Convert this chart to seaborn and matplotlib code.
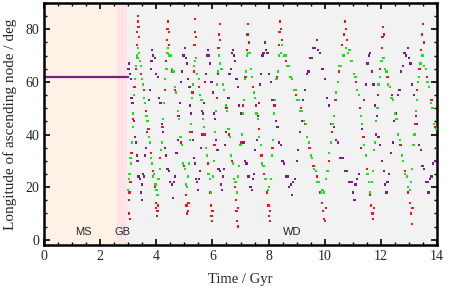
import pandas as pd
import seaborn as sns
import matplotlib.pyplot as plt
from matplotlib.ticker import MultipleLocator

# stellar stages (Gyr) and labels
stage_names = ["MS", "GB", "WD"]
stage_edges = [0.0, 2.6, 2.95, 14.0]
stage_colors = ["#fef2e6", "#fde3e6", "#f2f2f2"]
stage_label_t = [1.39, 2.78, 8.83]

# constant node longitude before the WD phase
ms_time = [0.0, 3.0]
ms_deg = [62, 62]

# (time / Gyr, longitude / deg)
purple_pts = [
    (3.00, 62), (3.01, 65), (3.03, 67), (3.06, 63), (3.09, 61), (3.12, 54), (3.15, 52), (3.18, 46),
    (3.21, 45), (3.24, 39), (3.27, 37), (3.30, 32), (3.33, 30), (3.37, 24), (3.41, 23), (3.45, 18),
    (3.48, 15), (3.50, 21), (3.52, 25), (3.56, 24), (3.60, 32), (3.64, 35), (3.67, 41), (3.70, 45),
    (3.74, 53), (3.77, 57), (3.80, 65), (3.83, 68), (3.86, 72), (3.89, 70), (3.95, 69), (4.00, 63),
    (4.05, 62), (4.10, 54), (4.15, 52), (4.20, 44), (4.25, 41), (4.30, 35), (4.35, 32), (4.40, 27),
    (4.45, 26), (4.50, 22), (4.55, 21), (4.60, 16), (4.63, 22), (4.67, 24), (4.72, 33), (4.76, 38),
    (4.80, 47), (4.84, 52), (4.88, 60), (4.92, 64), (4.96, 70), (5.00, 70), (5.03, 73), (5.06, 69),
    (5.10, 67), (5.14, 61), (5.18, 58), (5.21, 51), (5.24, 48), (5.27, 41), (5.30, 38), (5.34, 31),
    (5.38, 29), (5.42, 23), (5.46, 22), (5.49, 19), (5.52, 23), (5.56, 26), (5.60, 35), (5.64, 40),
    (5.67, 48), (5.70, 52), (5.74, 60), (5.77, 63), (5.80, 70), (5.84, 72), (5.87, 70), (5.92, 67),
    (5.97, 60), (6.02, 56), (6.06, 48), (6.10, 46), (6.14, 38), (6.18, 34), (6.22, 27), (6.26, 26),
    (6.30, 21), (6.34, 19), (6.37, 24), (6.41, 27), (6.45, 36), (6.49, 41), (6.53, 50), (6.57, 54),
    (6.61, 63), (6.65, 65), (6.69, 71), (6.73, 72), (6.76, 70), (6.81, 68), (6.86, 61), (6.91, 58),
    (6.96, 51), (7.01, 48), (7.06, 40), (7.11, 37), (7.16, 30), (7.21, 29), (7.26, 24), (7.31, 24),
    (7.36, 20), (7.41, 19), (7.44, 23), (7.48, 25), (7.53, 34), (7.58, 38), (7.62, 47), (7.66, 52),
    (7.70, 59), (7.74, 63), (7.78, 70), (7.82, 71), (7.86, 75), (7.90, 72), (7.96, 71), (8.02, 63),
    (8.08, 60), (8.14, 53), (8.20, 51), (8.26, 45), (8.32, 43), (8.38, 37), (8.44, 36), (8.50, 30),
    (8.56, 29), (8.62, 24), (8.68, 24), (8.74, 20), (8.80, 21), (8.84, 17), (8.88, 22), (8.94, 23),
    (9.00, 30), (9.06, 34), (9.12, 41), (9.18, 45), (9.24, 53), (9.30, 57), (9.36, 63), (9.42, 64),
    (9.48, 69), (9.54, 69), (9.60, 73), (9.66, 73), (9.72, 76), (9.76, 72), (9.84, 71), (9.92, 65),
    (10.00, 61), (10.08, 54), (10.16, 51), (10.24, 44), (10.32, 43), (10.40, 38), (10.48, 37),
    (10.56, 31), (10.64, 31), (10.72, 26), (10.80, 26), (10.88, 22), (10.96, 22), (11.02, 18),
    (11.06, 15), (11.10, 21), (11.16, 23), (11.22, 25), (11.28, 35), (11.34, 42), (11.40, 53),
    (11.46, 59), (11.52, 67), (11.57, 70), (11.62, 71), (11.68, 64), (11.74, 59), (11.80, 51),
    (11.86, 47), (11.92, 39), (11.98, 36), (12.04, 30), (12.10, 26), (12.16, 21), (12.20, 18),
    (12.24, 22), (12.30, 25), (12.36, 33), (12.42, 37), (12.48, 45), (12.54, 48), (12.60, 55),
    (12.66, 57), (12.72, 64), (12.78, 66), (12.84, 71), (12.90, 70), (12.96, 73), (13.00, 69),
    (13.06, 67), (13.12, 59), (13.18, 55), (13.24, 47), (13.30, 44), (13.36, 36), (13.42, 34),
    (13.48, 28), (13.54, 27), (13.60, 22), (13.66, 22), (13.70, 18), (13.74, 23), (13.80, 24),
    (13.86, 29), (13.92, 30), (13.98, 35),
]

red_pts = [
    (3.02, 15), (3.04, 10), (3.06, 8), (3.05, 18), (3.08, 22), (3.12, 33), (3.17, 46), (3.22, 58),
    (3.27, 65), (3.30, 74), (3.32, 79), (3.34, 83), (3.35, 85), (3.37, 81), (3.39, 77), (3.46, 63),
    (3.55, 57), (3.63, 49), (3.72, 42), (3.80, 33), (3.88, 26), (3.95, 20), (3.98, 14), (4.00, 12),
    (4.02, 9), (4.04, 11), (4.06, 13), (4.14, 31), (4.22, 43), (4.30, 57), (4.35, 68), (4.38, 76),
    (4.40, 80), (4.42, 83), (4.44, 79), (4.46, 74), (4.58, 64), (4.68, 57), (4.78, 47), (4.88, 37),
    (4.98, 28), (5.05, 17), (5.08, 13), (5.10, 10), (5.13, 11), (5.15, 14), (5.22, 41), (5.29, 56),
    (5.33, 64), (5.36, 74), (5.38, 79), (5.39, 84), (5.41, 77), (5.53, 58), (5.63, 49), (5.72, 40),
    (5.83, 29), (5.92, 18), (5.95, 13), (5.97, 9), (5.99, 7), (6.00, 11), (6.07, 36), (6.15, 54),
    (6.19, 63), (6.22, 73), (6.24, 78), (6.26, 82), (6.28, 76), (6.40, 57), (6.50, 50), (6.60, 40),
    (6.70, 30), (6.80, 20), (6.84, 15), (6.86, 11), (6.88, 7), (6.90, 5), (6.91, 12), (7.02, 37),
    (7.10, 51), (7.18, 62), (7.22, 72), (7.25, 78), (7.27, 82), (7.29, 75), (7.45, 58), (7.55, 51),
    (7.65, 42), (7.75, 32), (7.85, 25), (7.95, 18), (8.00, 13), (8.02, 9), (8.04, 7), (8.06, 11),
    (8.14, 35), (8.22, 51), (8.30, 62), (8.36, 74), (8.39, 79), (8.41, 83), (8.44, 80), (8.47, 76),
    (8.62, 68), (8.80, 62), (8.98, 55), (9.16, 50), (9.30, 44), (9.46, 35), (9.60, 28), (9.72, 24),
    (9.84, 18), (9.90, 14), (9.95, 11), (9.98, 8), (10.01, 7), (10.04, 12), (10.14, 30), (10.26, 41),
    (10.38, 53), (10.50, 64), (10.62, 74), (10.68, 78), (10.72, 83), (10.76, 80), (10.80, 76),
    (10.96, 68), (11.12, 60), (11.26, 50), (11.38, 39), (11.50, 27), (11.60, 17), (11.66, 13),
    (11.70, 10), (11.73, 8), (11.75, 12), (11.82, 40), (11.90, 55), (11.98, 65), (12.03, 73),
    (12.06, 77), (12.08, 81), (12.11, 78), (12.24, 62), (12.40, 55), (12.55, 46), (12.70, 36),
    (12.85, 26), (12.98, 18), (13.04, 14), (13.08, 10), (13.10, 6), (13.13, 12), (13.22, 44),
    (13.30, 57), (13.38, 65), (13.44, 72), (13.47, 78), (13.50, 82), (13.53, 75), (13.65, 62),
    (13.80, 53), (13.95, 43),
]

green_pts = [
    (3.00, 19), (3.02, 23), (3.05, 25), (3.08, 31), (3.10, 29), (3.13, 37), (3.16, 43), (3.18, 48),
    (3.21, 55), (3.24, 61), (3.27, 66), (3.30, 70), (3.33, 69), (3.36, 73), (3.38, 71), (3.41, 68),
    (3.45, 66), (3.49, 61), (3.53, 59), (3.57, 54), (3.61, 52), (3.65, 47), (3.69, 45), (3.73, 39),
    (3.77, 37), (3.81, 31), (3.85, 29), (3.89, 24), (3.93, 25), (3.97, 21), (4.01, 19), (4.04, 17),
    (4.08, 23), (4.12, 27), (4.16, 34), (4.20, 37), (4.24, 46), (4.28, 52), (4.32, 61), (4.36, 65),
    (4.40, 71), (4.43, 73), (4.47, 70), (4.51, 70), (4.56, 65), (4.61, 64), (4.66, 58), (4.71, 56),
    (4.76, 49), (4.81, 46), (4.86, 39), (4.91, 36), (4.96, 29), (5.01, 27), (5.05, 21), (5.09, 20),
    (5.12, 24), (5.16, 29), (5.20, 38), (5.24, 44), (5.28, 54), (5.31, 59), (5.34, 66), (5.37, 68),
    (5.42, 69), (5.46, 63), (5.51, 61), (5.56, 55), (5.61, 53), (5.66, 46), (5.71, 43), (5.76, 35),
    (5.81, 32), (5.86, 25), (5.91, 23), (5.95, 18), (6.01, 24), (6.05, 30), (6.09, 41), (6.13, 49),
    (6.17, 59), (6.20, 64), (6.23, 70), (6.27, 67), (6.32, 65), (6.37, 59), (6.42, 57), (6.47, 51),
    (6.52, 49), (6.57, 42), (6.62, 39), (6.67, 32), (6.72, 29), (6.77, 23), (6.82, 22), (6.87, 18),
    (6.92, 24), (6.96, 28), (7.00, 36), (7.04, 40), (7.08, 48), (7.12, 53), (7.16, 61), (7.20, 64),
    (7.24, 70), (7.27, 71), (7.32, 71), (7.37, 65), (7.42, 62), (7.47, 56), (7.52, 54), (7.57, 48),
    (7.62, 46), (7.67, 39), (7.72, 36), (7.77, 29), (7.82, 28), (7.87, 23), (7.92, 23), (7.97, 19),
    (8.02, 20), (8.08, 23), (8.12, 32), (8.16, 38), (8.20, 48), (8.24, 53), (8.28, 61), (8.33, 64),
    (8.38, 70), (8.43, 71), (8.48, 74), (8.54, 70), (8.60, 70), (8.66, 66), (8.72, 66), (8.78, 62),
    (8.84, 61), (8.90, 57), (8.96, 57), (9.02, 53), (9.08, 53), (9.14, 49), (9.20, 49), (9.26, 45),
    (9.32, 44), (9.38, 39), (9.44, 37), (9.50, 32), (9.56, 31), (9.62, 27), (9.68, 26), (9.74, 22),
    (9.80, 22), (9.86, 18), (9.92, 19), (9.98, 18), (10.04, 23), (10.10, 26), (10.16, 33),
    (10.22, 37), (10.28, 44), (10.34, 47), (10.40, 56), (10.46, 60), (10.52, 66), (10.58, 66),
    (10.64, 70), (10.70, 70), (10.76, 73), (10.82, 71), (10.88, 72), (10.93, 68), (10.98, 68),
    (11.04, 63), (11.10, 62), (11.16, 57), (11.22, 55), (11.28, 47), (11.34, 44), (11.40, 36),
    (11.46, 32), (11.52, 25), (11.57, 22), (11.62, 18), (11.68, 22), (11.72, 26), (11.76, 34),
    (11.80, 37), (11.84, 45), (11.88, 50), (11.92, 59), (11.96, 62), (12.00, 68), (12.04, 68),
    (12.09, 69), (12.14, 65), (12.20, 64), (12.26, 59), (12.32, 58), (12.38, 54), (12.44, 53),
    (12.50, 48), (12.56, 46), (12.62, 40), (12.68, 38), (12.74, 32), (12.80, 30), (12.86, 25),
    (12.92, 24), (12.98, 20), (13.03, 19), (13.08, 22), (13.12, 27), (13.16, 36), (13.20, 40),
    (13.24, 49), (13.28, 53), (13.32, 60), (13.36, 62), (13.40, 67), (13.44, 67), (13.48, 70),
    (13.54, 66), (13.60, 65), (13.66, 60), (13.72, 58), (13.78, 52), (13.84, 50), (13.90, 44),
    (13.96, 42),
]

series_colors = {"purple": "#7e1c88", "red": "#f01818", "green": "#1ee01e"}

frames = []
for name, pts in [("purple", purple_pts), ("red", red_pts), ("green", green_pts)]:
    part = pd.DataFrame(pts, columns=["time", "deg"])
    part["series"] = name
    frames.append(part)
df = pd.concat(frames, ignore_index=True)

sns.set_style("ticks")
plt.rcParams["font.family"] = ["Liberation Serif", "DejaVu Serif"]

fig = plt.figure(figsize=(4.63, 2.90), dpi=100)
ax = fig.add_axes([44 / 463, 45 / 290, 393 / 463, 242 / 290])

for i in range(len(stage_names)):
    ax.axvspan(stage_edges[i], stage_edges[i + 1], color=stage_colors[i], lw=0, zorder=0)
    ax.text(stage_label_t[i], 2.8, stage_names[i], ha="center", va="center",
            fontsize=8, family=["Liberation Sans", "DejaVu Sans"], zorder=5)

sns.lineplot(x=ms_time, y=ms_deg, color="#7e1c88", lw=1.6, ax=ax)
sns.scatterplot(data=df, x="time", y="deg", hue="series", palette=series_colors,
                marker="s", s=2.6, linewidth=0, legend=False, ax=ax, zorder=3)

ax.set_xlim(0, 14)
ax.set_ylim(-2, 90)
ax.xaxis.set_major_locator(MultipleLocator(2))
ax.xaxis.set_minor_locator(MultipleLocator(0.5))
ax.yaxis.set_major_locator(MultipleLocator(20))
ax.yaxis.set_minor_locator(MultipleLocator(5))
ax.tick_params(which="both", direction="in", top=True, right=True, color="black", labelsize=10)
ax.tick_params(which="major", length=4, width=1.2)
ax.tick_params(which="minor", length=2.2, width=1.0)
for sp in ax.spines.values():
    sp.set_linewidth(1.8)
    sp.set_color("black")

ax.set_xlabel("Time / Gyr", fontsize=10.5, labelpad=7)
ax.set_ylabel("Longitude of ascending node / deg", fontsize=11, labelpad=6)

fig.savefig("out.png", dpi=100)
